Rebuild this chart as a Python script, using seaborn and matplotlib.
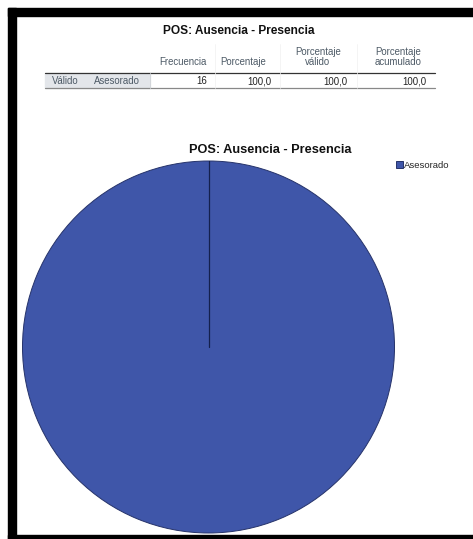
import matplotlib
matplotlib.use("Agg")
import matplotlib.pyplot as plt
from matplotlib.patches import Rectangle
import seaborn as sns

# Frequency table data
title = "POS: Ausencia - Presencia"
group_label = "Válido"
categories = ["Asesorado"]
frecuencia = [16]
porcentaje = [100.0]
porcentaje_valido = [100.0]
porcentaje_acumulado = [100.0]
headers = ["Frecuencia", "Porcentaje", "Porcentaje\nválido", "Porcentaje\nacumulado"]

sns.set_theme(style="white")
plt.rcParams["font.family"] = ["Liberation Sans", "DejaVu Sans"]

W, H = 473, 539
fig = plt.figure(figsize=(W / 100, H / 100), dpi=100)
fig.patch.set_facecolor("white")


def fx(px):
    return px / W


def fy(py):
    return 1 - py / H


def fmt(v):
    return f"{v:.1f}".replace(".", ",")


# Frame around the output viewer
fig.patches.append(Rectangle((fx(8), fy(16)), fx(W) - fx(8), fy(8) - fy(16),
                             transform=fig.transFigure, color="black", zorder=5))
fig.patches.append(Rectangle((fx(8), fy(H)), fx(16) - fx(8), fy(8) - fy(H),
                             transform=fig.transFigure, color="black", zorder=5))
fig.patches.append(Rectangle((fx(8), fy(H)), fx(W) - fx(8), fy(535) - fy(H),
                             transform=fig.transFigure, color="black", zorder=5))

# ---- Frequency table ----
hdr_color = "#4d5a66"
val_color = "#222222"
fs = 6.9
fig.text(fx(239), fy(31), title, ha="center", va="center",
         fontsize=8.6, fontweight="bold", color="#111111")

col_centers = [183, 243, 318, 398]
col_right = [207, 271, 347, 426]
for c, h in zip(col_centers, headers):
    fig.text(fx(c), fy(67), h, ha="center", va="bottom", fontsize=fs,
             color=hdr_color, linespacing=1.0)

# label cell shading
fig.patches.append(Rectangle((fx(45), fy(88)), fx(150) - fx(45), fy(73) - fy(88),
                             transform=fig.transFigure, color="#e3e6ea", zorder=0))
# rules
fig.add_artist(plt.Line2D([fx(45), fx(435)], [fy(73), fy(73)],
                          transform=fig.transFigure, color="#333333", lw=0.9))
fig.add_artist(plt.Line2D([fx(45), fx(435)], [fy(88), fy(88)],
                          transform=fig.transFigure, color="#888888", lw=0.9))
fig.add_artist(plt.Line2D([fx(150), fx(150)], [fy(73), fy(88)],
                          transform=fig.transFigure, color="#d0d4d8", lw=0.6))
for xv in [215, 280, 357]:
    fig.add_artist(plt.Line2D([fx(xv), fx(xv)], [fy(44), fy(88)],
                              transform=fig.transFigure, color="#f0f0f0", lw=0.5))

row_y = 81
fig.text(fx(65), fy(row_y), group_label, ha="center", va="center",
         fontsize=fs, color=hdr_color)
for i, cat in enumerate(categories):
    fig.text(fx(117), fy(row_y), cat, ha="center", va="center",
             fontsize=fs, color=hdr_color)
    vals = [str(frecuencia[i]), fmt(porcentaje[i]),
            fmt(porcentaje_valido[i]), fmt(porcentaje_acumulado[i])]
    for r, v in zip(col_right, vals):
        fig.text(fx(r), fy(row_y), v, ha="right", va="center",
                 fontsize=fs, color=val_color)

# ---- Pie chart ----
ax = fig.add_axes([0, 0, 1, 1])
ax.patch.set_alpha(0)

pie_color = sns.color_palette(["#3f56a9"])
cx, cy, r = 208.5, H - 347, 186
wedges, _ = ax.pie(frecuencia, labels=None, colors=pie_color, startangle=90,
                   counterclock=False, center=(cx, cy), radius=r,
                   wedgeprops=dict(edgecolor="#26336a", linewidth=0.7),
                   frame=True)
ax.set_xlim(0, W)
ax.set_ylim(0, H)
ax.set_aspect("equal")
ax.axis("off")
# boundary between slice start and end
ax.plot([cx, cx], [cy, cy + r], color="#14204d", lw=0.9)

fig.text(fx(270), fy(150), title, ha="center", va="center",
         fontsize=9.2, fontweight="bold", color="#111111")

leg = ax.legend(wedges, categories, loc="upper left",
                bbox_to_anchor=(fx(396), fy(161)), bbox_transform=fig.transFigure,
                frameon=False, fontsize=6.8, handlelength=0.75, handleheight=0.75,
                handletextpad=0.1, borderpad=0, borderaxespad=0)

fig.savefig("out.png", dpi=100, facecolor="white")
